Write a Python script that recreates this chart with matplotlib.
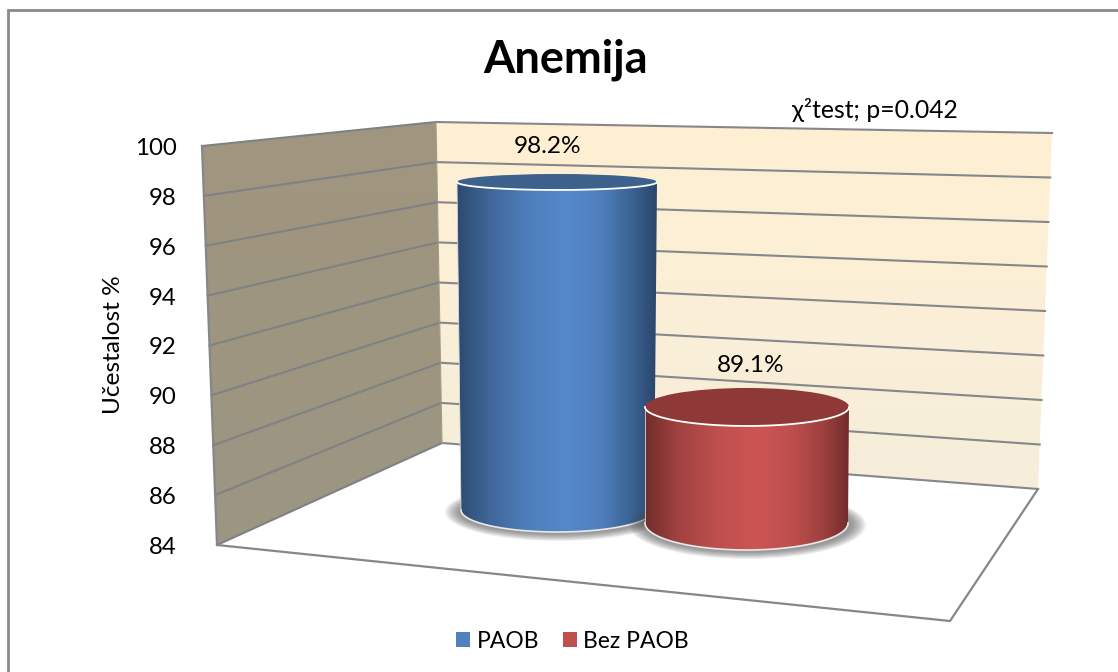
import numpy as np
import matplotlib
matplotlib.use('Agg')
import matplotlib.pyplot as plt
from matplotlib.colors import LinearSegmentedColormap
from matplotlib.patches import Polygon, Ellipse, Patch

plt.rcParams['font.family'] = ['Lato', 'DejaVu Sans']

# data
categories = ['PAOB', 'Bez PAOB']
values = [98.2, 89.1]
value_labels = ['98.2%', '89.1%']
y_ticks = [84, 86, 88, 90, 92, 94, 96, 98, 100]
y_min, y_max = y_ticks[0], y_ticks[-1]

W, H = 1118, 672
fig = plt.figure(figsize=(W/100, H/100), dpi=100, facecolor='white')
ax = fig.add_axes([0, 0, 1, 1])
ax.set_xlim(0, W)
ax.set_ylim(H, 0)
ax.axis('off')

# corners of the fake 3d box, in pixels
front_top, front_bot = np.array([202., 146.]), np.array([217., 545.])
back_top, back_bot = np.array([436., 122.]), np.array([442., 443.])
right_top, right_bot = np.array([1052., 133.]), np.array([1038., 489.])
floor_front = np.array([950., 621.])

def on_edge(top, bot, v):
    # position of a value along one vertical edge of the box
    return bot + (top - bot)*(v - y_min)/(y_max - y_min)

def gradient(cmap, extent, clip, horizontal, z):
    g = np.linspace(0, 1, 256)
    g = g[None, :] if horizontal else g[:, None]
    im = ax.imshow(g, cmap=cmap, extent=extent, aspect='auto', zorder=z, origin='upper')
    im.set_clip_path(clip)

# walls
wall_line = '#85878a'
left = Polygon([front_top, back_top, back_bot, front_bot], closed=True, fc='none', ec='none', transform=ax.transData)
ax.add_patch(left)
gradient(LinearSegmentedColormap.from_list('l', ['#a1967f', '#9b9582']), (200, 445, 548, 120), left, False, 1)
back = Polygon([back_top, right_top, right_bot, back_bot], closed=True, fc='none', ec='none', transform=ax.transData)
ax.add_patch(back)
gradient(LinearSegmentedColormap.from_list('b', ['#fff0d3', '#f6eedb']), (430, 1055, 492, 120), back, False, 1)

for v in y_ticks:
    a, b, c = on_edge(front_top, front_bot, v), on_edge(back_top, back_bot, v), on_edge(right_top, right_bot, v)
    ax.plot([a[0], b[0]], [a[1], b[1]], color='#7f8284', lw=1.5, zorder=2)
    ax.plot([b[0], c[0]], [b[1], c[1]], color='#85878a', lw=1.5, zorder=2)
    ax.text(177, a[1] + 2.5, str(v), ha='right', va='center', fontsize=17.3, color='black', zorder=6)

ax.plot([front_top[0], front_bot[0], floor_front[0], right_bot[0]],
        [front_top[1], front_bot[1], floor_front[1], right_bot[1]], color=wall_line, lw=1.6, zorder=2)
ax.plot([back_top[0], back_bot[0]], [back_top[1], back_bot[1]], color='#a39b88', lw=0.8, zorder=2)

# cylinders: x range at base and top, base y, ry, px per value unit
cyl_geom = [
    dict(x0=461, x1=654, tx0=457, tx1=657, base=510, ry_b=22, ry_t=8, scale=23.1, lab_x=548, lab_dy=35),
    dict(x0=645, x1=848, tx0=645, tx1=849, base=523, ry_b=27, ry_t=19, scale=22.75, lab_x=751, lab_dy=41),
]
cyl_cols = [
    (['#2d4a70', '#3f6698', '#4e7fbc', '#5589cd', '#4f80bd', '#3a6191', '#2b466b'], '#3b618c', '#4f81bd'),
    (['#722c2b', '#a04240', '#bf504e', '#cd5553', '#bd4f4d', '#9c403e', '#722c2b'], '#8e3938', '#c0504d'),
]
pos = [0, .16, .36, .55, .72, .88, 1]

for i, v in enumerate(values):
    g = cyl_geom[i]
    top_y = g['base'] - g['scale']*(v - y_min)
    cx_b, rx_b = (g['x0'] + g['x1'])/2, (g['x1'] - g['x0'])/2
    cx_t, rx_t = (g['tx0'] + g['tx1'])/2, (g['tx1'] - g['tx0'])/2
    z = 3 + i

    # soft shadow on the floor
    for k in range(10):
        ax.add_patch(Ellipse((cx_b + 1, g['base'] + 2), 2*rx_b + 34 - 3*k, 2*g['ry_b'] + 14 - 1.5*k,
                             fc='#505050', ec='none', alpha=0.08, zorder=z))

    th = np.linspace(0, np.pi, 80)
    low_b = np.c_[cx_b + rx_b*np.cos(th), g['base'] + g['ry_b']*np.sin(th)]
    low_t = np.c_[cx_t + rx_t*np.cos(th), top_y + g['ry_t']*np.sin(th)]
    body = np.r_[[[g['tx1'], top_y]], low_b, low_t[::-1]]
    poly = Polygon(body, closed=True, fc='none', ec='none')
    ax.add_patch(poly)
    cmap = LinearSegmentedColormap.from_list('c%d' % i, list(zip(pos, cyl_cols[i][0])))
    gradient(cmap, (min(g['x0'], g['tx0']), max(g['x1'], g['tx1']), g['base'] + g['ry_b'], top_y - 1), poly, True, z + 0.1)
    ax.plot(low_b[:, 0], low_b[:, 1], color='#e8e8e8', lw=1.2, zorder=z + 0.2)
    ax.plot([g['x0'], g['tx0']], [g['base'], top_y], color='#d5dbe3', lw=0.6, zorder=z + 0.2)
    ax.add_patch(Ellipse((cx_t, top_y), 2*rx_t, 2*g['ry_t'], fc=cyl_cols[i][1], ec='none', zorder=z + 0.3))
    ax.plot(low_t[:, 0], low_t[:, 1], color='white', lw=1.3, zorder=z + 0.4)
    ax.text(g['lab_x'], top_y - g['lab_dy'], value_labels[i], ha='center', va='center', fontsize=17.6, color='black', zorder=6)

# texts
ax.text(566, 60, 'Anemija', ha='center', va='center', fontsize=32.5, fontweight='bold', color='black')
ax.text(875, 110, 'χ²test; p=0.042', ha='center', va='center', fontsize=17.8, color='black')
ax.text(114, 345, 'Učestalost %', rotation=90, ha='center', va='center', fontsize=17.6, color='black')

# chart frame, only top and left visible
ax.plot([7.5, 7.5, W], [H, 9.5, 9.5], color='#8a8a8a', lw=2, solid_joinstyle='miter', zorder=0)

handles = [Patch(fc=cyl_cols[i][2], ec='none', label=categories[i]) for i in range(2)]
ax.legend(handles=handles, loc='center', bbox_to_anchor=(572.5/W, 1 - 641/H), bbox_transform=fig.transFigure,
          ncol=2, frameon=False, fontsize=16.5, handlelength=0.62, handleheight=0.62,
          handletextpad=0.27, columnspacing=1.03, borderpad=0)

fig.savefig('out.png', dpi=100)
